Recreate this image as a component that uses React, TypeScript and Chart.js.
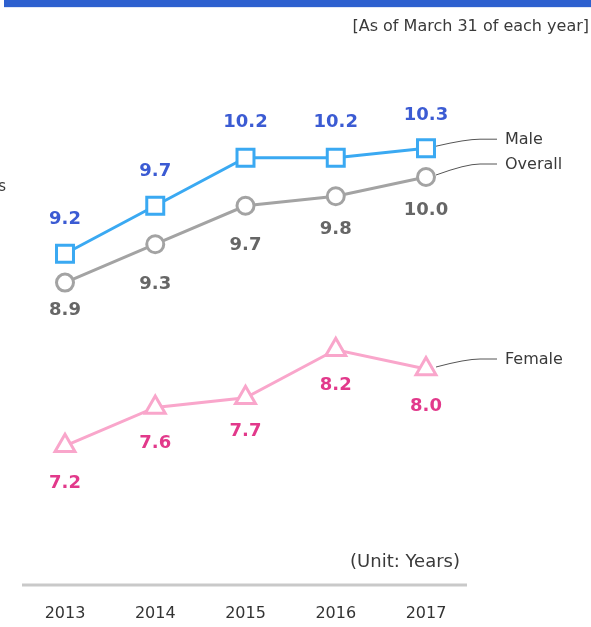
import React, { useEffect, useRef } from 'react';
import { Chart, registerables } from 'chart.js';

Chart.register(...registerables);

const years = ['2013', '2014', '2015', '2016', '2017'];
const maleValues = [9.2, 9.7, 10.2, 10.2, 10.3];
const overallValues = [8.9, 9.3, 9.7, 9.8, 10.0];
const femaleValues = [7.2, 7.6, 7.7, 8.2, 8.0];
const seriesNames = ['Male', 'Overall', 'Female'];
const noteText = '[As of March 31 of each year]';
const unitText = '(Unit: Years)';
const cutText = 's';

const FONT = '"DejaVu Sans", Verdana, sans-serif';

const lineColors = ['#3aa9f2', '#a3a3a3', '#f9a6cb'];
const labelColors = ['#3b5bd3', '#666666', '#e2398b'];
// vertical label offsets relative to the point (styling)
const labelOffsets = [
  [-34, -34, -35, -35, -33],
  [28, 40, 40, 33, 33],
  [38, 36, 34, 36, 37],
];
const legendDy = [-9, -13, -10];

const overlayPlugin = {
  id: 'overlay',
  afterDraw(chart: any) {
    const ctx = chart.ctx as CanvasRenderingContext2D;
    ctx.save();
    // top bar
    ctx.fillStyle = '#2d60cf';
    ctx.fillRect(4, 0, 587, 7);
    ctx.fillStyle = '#dfe7f7';
    ctx.fillRect(4, 7, 587, 1);

    ctx.textBaseline = 'middle';
    // note
    ctx.fillStyle = '#3a3a3a';
    ctx.font = `16px ${FONT}`;
    ctx.textAlign = 'right';
    ctx.fillText(noteText, 589, 27);
    // cut-off text at left
    ctx.font = `15px ${FONT}`;
    ctx.fillText(cutText, 6, 187);

    // value labels
    const datasets = chart.data.datasets;
    datasets.forEach((ds: any, i: number) => {
      const meta = chart.getDatasetMeta(i);
      ctx.fillStyle = labelColors[i];
      ctx.font = `bold 18px ${FONT}`;
      ctx.textAlign = 'center';
      meta.data.forEach((pt: any, j: number) => {
        const v = ds.data[j] as number;
        ctx.fillText(v.toFixed(1), pt.x, pt.y + labelOffsets[i][j]);
      });
      // leader line + series name
      const last = meta.data[meta.data.length - 1];
      const ey = last.y + legendDy[i];
      ctx.strokeStyle = '#555';
      ctx.lineWidth = 1;
      ctx.beginPath();
      ctx.moveTo(last.x + 10, last.y - 2);
      ctx.quadraticCurveTo(last.x + 40, ey, last.x + 54, ey);
      ctx.lineTo(last.x + 71, ey);
      ctx.stroke();
      ctx.fillStyle = '#3a3a3a';
      ctx.font = `16px ${FONT}`;
      ctx.textAlign = 'left';
      ctx.fillText(seriesNames[i], last.x + 79, ey + 1);
    });

    // unit text
    ctx.fillStyle = '#3a3a3a';
    ctx.font = `18px ${FONT}`;
    ctx.textAlign = 'right';
    ctx.fillText(unitText, 460, 562);

    // baseline
    ctx.strokeStyle = '#c9c9c9';
    ctx.lineWidth = 3;
    ctx.beginPath();
    ctx.moveTo(22, 585);
    ctx.lineTo(467, 585);
    ctx.stroke();

    // year labels
    const xScale = chart.scales.x;
    ctx.fillStyle = '#333';
    ctx.font = `16px ${FONT}`;
    ctx.textAlign = 'center';
    years.forEach((y, j) => {
      ctx.fillText(y, xScale.getPixelForValue(j), 614);
    });
    ctx.restore();
  },
};

export default function App() {
  const ref = useRef<HTMLCanvasElement | null>(null);
  useEffect(() => {
    if (!ref.current) return;
    const chart = new Chart(ref.current, {
      type: 'line',
      data: {
        labels: years,
        datasets: [
          {
            label: seriesNames[0],
            data: maleValues,
            borderColor: lineColors[0],
            borderWidth: 3,
            pointStyle: 'rect',
            pointRadius: 12,
            pointBorderWidth: 3,
            pointBackgroundColor: '#fff',
            pointBorderColor: lineColors[0],
            clip: false,
          },
          {
            label: seriesNames[1],
            data: overallValues,
            borderColor: lineColors[1],
            borderWidth: 3,
            pointStyle: 'circle',
            pointRadius: 8.5,
            pointBorderWidth: 3,
            pointBackgroundColor: '#fff',
            pointBorderColor: lineColors[1],
            clip: false,
          },
          {
            label: seriesNames[2],
            data: femaleValues,
            borderColor: lineColors[2],
            borderWidth: 3,
            pointStyle: 'triangle',
            pointRadius: 11.5,
            pointBorderWidth: 3,
            pointBackgroundColor: '#fff',
            pointBorderColor: lineColors[2],
            clip: false,
          },
        ],
      },
      options: {
        responsive: false,
        animation: false,
        devicePixelRatio: 1,
        layout: { padding: { left: 65, right: 165, top: 57, bottom: 42 } },
        scales: {
          x: { display: false, offset: false },
          y: { display: false, min: 5.75, max: 11.25 },
        },
        plugins: { legend: { display: false }, tooltip: { enabled: false } },
      },
      plugins: [overlayPlugin],
    });
    return () => chart.destroy();
  }, []);
  return (
    <div style={{ position: 'absolute', left: 0, top: 0, width: 591, height: 627, background: '#fff' }}>
      <canvas ref={ref} width={591} height={627} />
    </div>
  );
}
